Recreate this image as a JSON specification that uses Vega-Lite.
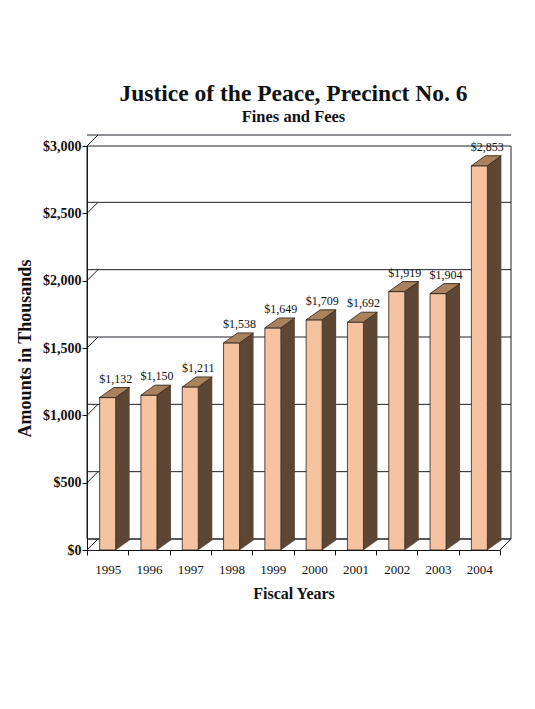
{
  "$schema": "https://vega.github.io/schema/vega-lite/v6.json",
  "width": 413,
  "height": 404,
  "autosize": {"type": "none"},
  "padding": {"left": 87, "top": 146, "right": 35, "bottom": 159},
  "background": "white",
  "title": {
    "text": "Justice of the Peace, Precinct No. 6",
    "subtitle": "Fines and Fees",
    "anchor": "middle",
    "offset": 8,
    "subtitlePadding": 3
  },
  "datasets": {
    "fines": [
      {"year": "1995", "value": 1132},
      {"year": "1996", "value": 1150},
      {"year": "1997", "value": 1211},
      {"year": "1998", "value": 1538},
      {"year": "1999", "value": 1649},
      {"year": "2000", "value": 1709},
      {"year": "2001", "value": 1692},
      {"year": "2002", "value": 1919},
      {"year": "2003", "value": 1904},
      {"year": "2004", "value": 2853}
    ],
    "grid": [
      {"g": 0}, {"g": 500}, {"g": 1000}, {"g": 1500}, {"g": 2000}, {"g": 2500}, {"g": 3000}
    ]
  },
  "layer": [
    {
      "data": {"name": "grid"},
      "mark": {"type": "rule", "xOffset": 11, "yOffset": -11, "color": "#1e1e28", "strokeWidth": 1},
      "encoding": {
        "y": {"field": "g", "type": "quantitative", "title": "Amounts in Thousands", "scale": {"domain": [0, 3000], "nice": false}, "axis": {"format": "$,.0f"}}
      }
    },
    {
      "data": {"values": [{"a": 1}]},
      "mark": {"type": "rect", "xOffset": 11, "yOffset": -11, "fill": null, "fillOpacity": 0, "stroke": "#1e1e28", "strokeWidth": 1},
      "encoding": {
        "y": {"datum": 0, "type": "quantitative"},
        "y2": {"datum": 3000}
      }
    },
    {
      "data": {"name": "grid"},
      "mark": {"type": "point", "shape": "M 0 0 L 1 -1", "size": 484, "filled": false, "stroke": "#1e1e28", "strokeWidth": 1, "opacity": 1, "xOffset": -20.65},
      "encoding": {
        "x": {"datum": "1995", "type": "nominal", "title": "Fiscal Years"},
        "y": {"field": "g", "type": "quantitative", "title": "Amounts in Thousands", "axis": {"format": "$,.0f"}}
      }
    },
    {
      "data": {"values": [{"a": 1}]},
      "mark": {"type": "point", "shape": "M 0 0 L 1 -1", "size": 484, "filled": false, "stroke": "#1e1e28", "strokeWidth": 1, "opacity": 1, "xOffset": 20.65},
      "encoding": {
        "x": {"datum": "2004", "type": "nominal", "title": "Fiscal Years"},
        "y": {"datum": 0, "type": "quantitative", "title": "Amounts in Thousands", "axis": {"format": "$,.0f"}}
      }
    },
    {
      "data": {"name": "fines"},
      "mark": {"type": "bar", "width": 14, "xOffset": 15, "yOffset": -10, "fill": "#5e4634", "stroke": null},
      "encoding": {
        "x": {"field": "year", "type": "nominal", "title": "Fiscal Years"},
        "y": {"field": "value", "type": "quantitative", "title": "Amounts in Thousands", "axis": {"format": "$,.0f"}}
      }
    },
    {
      "data": {"name": "fines"},
      "mark": {"type": "point", "shape": "M 0.8 -1 L 0.8 0 L 2.2 -1 Z", "size": 400, "filled": true, "fill": "#5e4634", "stroke": "#5e4634", "strokeWidth": 0.5, "opacity": 1},
      "encoding": {
        "x": {"field": "year", "type": "nominal", "title": "Fiscal Years"},
        "y": {"datum": 0, "type": "quantitative", "title": "Amounts in Thousands", "axis": {"format": "$,.0f"}}
      }
    },
    {
      "data": {"name": "fines"},
      "mark": {"type": "bar", "width": 16, "fill": "#f6c3a0", "stroke": "#2b2018", "strokeWidth": 0.8},
      "encoding": {
        "x": {"field": "year", "type": "nominal", "title": "Fiscal Years"},
        "y": {"field": "value", "type": "quantitative", "title": "Amounts in Thousands", "axis": {"format": "$,.0f"}}
      }
    },
    {
      "data": {"name": "fines"},
      "mark": {"type": "point", "shape": "M -0.8 0 L 0.8 0 L 2.2 -1 L 0.6 -1 Z", "size": 400, "filled": true, "fill": "#a9825e", "stroke": "#2b2018", "strokeWidth": 0.8, "opacity": 1},
      "encoding": {
        "x": {"field": "year", "type": "nominal", "title": "Fiscal Years"},
        "y": {"field": "value", "type": "quantitative", "title": "Amounts in Thousands", "axis": {"format": "$,.0f"}}
      }
    },
    {
      "data": {"name": "fines"},
      "mark": {"type": "text", "font": "Liberation Serif", "fontSize": 12, "baseline": "alphabetic", "dy": -15, "xOffset": 8, "color": "#111111"},
      "encoding": {
        "x": {"field": "year", "type": "nominal", "title": "Fiscal Years"},
        "y": {"field": "value", "type": "quantitative", "title": "Amounts in Thousands", "axis": {"format": "$,.0f"}},
        "text": {"field": "value", "type": "quantitative", "format": "$,.0f"}
      }
    }
  ],
  "config": {
    "view": {"stroke": null},
    "scale": {"bandPaddingInner": 0, "bandPaddingOuter": 0},
    "font": "Liberation Serif",
    "title": {
      "font": "Liberation Serif",
      "fontSize": 23.5,
      "fontWeight": "bold",
      "color": "#111111",
      "subtitleFont": "Liberation Serif",
      "subtitleFontSize": 16.5,
      "subtitleFontWeight": "bold",
      "subtitleColor": "#111111"
    },
    "axis": {
      "domainColor": "#111111",
      "tickColor": "#111111",
      "labelColor": "#111111",
      "titleColor": "#111111",
      "labelFont": "Liberation Serif",
      "titleFont": "Liberation Serif",
      "titleFontWeight": "bold",
      "grid": false,
      "tickSize": 5,
      "zindex": 1
    },
    "axisX": {"labelAngle": 0, "tickBand": "extent", "labelFontSize": 13, "labelPadding": 8, "titleFontSize": 16, "titlePadding": 9},
    "axisY": {"labelFontSize": 14, "labelFontWeight": "bold", "tickCount": 6, "labelPadding": 1, "titleFontSize": 18, "titlePadding": 8}
  }
}
